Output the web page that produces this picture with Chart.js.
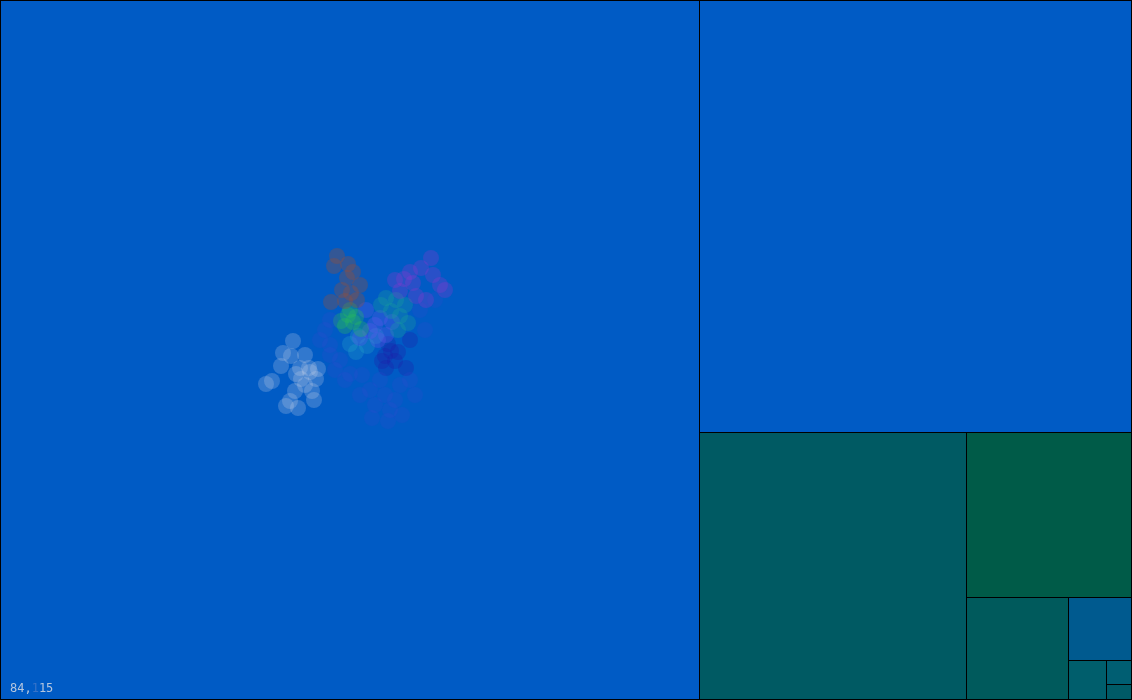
<!DOCTYPE html>
<html>
<head>
<meta charset="utf-8">
<script src="https://cdn.jsdelivr.net/npm/chart.js@4.4.1/dist/chart.umd.min.js"></script>
<style>
html,body{margin:0;padding:0;background:#005BC5;overflow:hidden;}
#wrap{position:relative;width:1132px;height:700px;}
</style>
</head>
<body>
<div id="wrap"><canvas id="c"></canvas></div>
<script>
// ---- treemap data ----
const cellNames  = ['a','b','c','d','e','f','g','h','i'];
const cellValues = [489300, 187056, 71300, 27225, 10404, 3969, 1482, 600, 375];
const cellColors = ['#005BC5','#005BC5','#005A63','#005B48','#005A5C','#005A8F','#005E6C','#005E72','#005A66'];

// ---- scatter cloud data (x, y in plot units) ----
const brownPts  = [[337,256],[334,266],[348,264],[347,278],[342,290],[351,293],[360,285],[357,300],[345,301],[331,302],[353,272]];
const purplePts = [[431,258],[421,268],[410,272],[404,279],[413,283],[400,291],[416,296],[440,285],[445,290],[426,300],[433,275],[395,280]];
const greenPts  = [[348,315],[353,322],[345,326],[356,317],[361,329],[341,321],[350,310]];
const tealPts   = [[386,298],[396,300],[405,305],[400,316],[408,323],[391,311],[381,305],[398,330]];
const whitePts  = [[266,384],[272,381],[293,341],[283,353],[281,366],[291,356],[305,355],[300,368],[310,372],[316,379],[305,385],[312,391],[295,391],[290,401],[298,408],[286,406],[314,400],[301,379],[309,368],[318,369],[296,374]];
const darkPts   = [[385,356],[391,351],[382,361],[398,352],[395,361],[386,368],[406,368],[410,340],[388,344]];
const violetPts = [[375,325],[380,318],[370,331],[386,335],[366,310],[378,340],[392,322],[360,338]];
const cyanPts   = [[358,336],[356,352],[367,346],[376,336],[350,344]];
const faintPts  = [[330,345],[345,380],[350,374],[380,380],[385,395],[390,410],[388,421],[395,400],[375,405],[370,390],[362,375],[340,360],[325,330],[320,340],[330,355],[410,380],[415,395],[400,385],[360,395],[420,310],[425,330],[435,300],[330,320],[335,370],[372,418],[402,415]];

// ---- labels ----
const cornerParts = ['84,', '1', '15'];

const groups = [
  {data: brownPts,  color: 'rgba(150,80,55,0.34)'},
  {data: purplePts, color: 'rgba(160,50,210,0.26)'},
  {data: faintPts,  color: 'rgba(70,70,210,0.16)'},
  {data: greenPts,  color: 'rgba(40,190,90,0.32)'},
  {data: tealPts,   color: 'rgba(30,170,150,0.28)'},
  {data: whitePts,  color: 'rgba(205,215,235,0.24)'},
  {data: violetPts, color: 'rgba(100,90,240,0.30)'},
  {data: cyanPts,   color: 'rgba(40,170,200,0.28)'},
  {data: darkPts,   color: 'rgba(30,30,170,0.30)'}
];

const W = 1132, H = 700;

function worst(row, side) {
  const s = row.reduce((a,b)=>a+b.v,0);
  let mx = -Infinity, mn = Infinity;
  row.forEach(r => { mx = Math.max(mx, r.v); mn = Math.min(mn, r.v); });
  return Math.max(side*side*mx/(s*s), (s*s)/(side*side*mn));
}
function squarify(values, x, y, w, h) {
  const total = values.reduce((a,b)=>a+b,0);
  const items = values.map((v,i)=>({v: v*w*h/total, i}));
  const rects = [];
  let row = [];
  function layout(row) {
    const s = row.reduce((a,b)=>a+b.v,0);
    if (w >= h) {
      const cw = s/h; let cy = y;
      row.forEach(r => { const rh = r.v/cw; rects.push({i:r.i,x0:x,y0:cy,x1:x+cw,y1:cy+rh}); cy += rh; });
      x += cw; w -= cw;
    } else {
      const rh = s/w; let cx = x;
      row.forEach(r => { const rw = r.v/rh; rects.push({i:r.i,x0:cx,y0:y,x1:cx+rw,y1:y+rh}); cx += rw; });
      y += rh; h -= rh;
    }
  }
  let k = 0;
  while (k < items.length) {
    const side = Math.min(w, h);
    const it = items[k];
    if (row.length === 0 || worst(row.concat([it]), side) <= worst(row, side)) {
      row.push(it); k++;
    } else {
      layout(row); row = [];
    }
  }
  if (row.length) layout(row);
  return rects;
}

const treemapPlugin = {
  id: 'treemap',
  beforeDatasetsDraw(chart) {
    const ctx = chart.ctx, xs = chart.scales.x, ys = chart.scales.y;
    const rects = squarify(cellValues, 0, 0, W, H);
    const px = r => {
      let x0 = Math.floor(xs.getPixelForValue(r.x0) + 1e-6), x1 = Math.floor(xs.getPixelForValue(r.x1) + 1e-6);
      let y0 = Math.floor(ys.getPixelForValue(r.y0) + 1e-6), y1 = Math.floor(ys.getPixelForValue(r.y1) + 1e-6);
      x1 = Math.min(x1, chart.width - 1); y1 = Math.min(y1, chart.height - 1);
      return {x0, x1, y0, y1};
    };
    ctx.save();
    rects.forEach(r => {
      const p = px(r);
      ctx.fillStyle = cellColors[r.i];
      ctx.fillRect(p.x0, p.y0, p.x1 - p.x0 + 1, p.y1 - p.y0 + 1);
    });
    ctx.strokeStyle = '#000';
    ctx.lineWidth = 1;
    rects.forEach(r => {
      const p = px(r);
      ctx.strokeRect(p.x0 + 0.5, p.y0 + 0.5, p.x1 - p.x0, p.y1 - p.y0);
    });
    ctx.restore();
  },
  afterDraw(chart) {
    const ctx = chart.ctx;
    ctx.save();
    ctx.font = '12px "DejaVu Sans Mono", monospace';
    ctx.textBaseline = 'alphabetic';
    let x = 10; const y = 692;
    const cols = ['rgba(200,210,225,0.9)', 'rgba(110,140,205,0.5)', 'rgba(200,210,225,0.9)'];
    cornerParts.forEach((p, i) => {
      ctx.fillStyle = cols[i];
      ctx.fillText(p, x, y);
      x += ctx.measureText(p).width;
    });
    ctx.restore();
  }
};

new Chart(document.getElementById('c'), {
  type: 'scatter',
  data: {
    datasets: groups.map(g => ({
      data: g.data.map(p => ({x: p[0], y: p[1]})),
      backgroundColor: g.color,
      borderWidth: 0,
      pointRadius: 8,
      pointHoverRadius: 8
    }))
  },
  options: {
    responsive: true,
    maintainAspectRatio: false,
    animation: false,
    layout: {padding: 0, autoPadding: false},
    plugins: {legend: {display: false}, tooltip: {enabled: false}},
    events: [],
    scales: {
      x: {type: 'linear', min: 0, max: W, display: false},
      y: {type: 'linear', min: 0, max: H, reverse: true, display: false}
    }
  },
  plugins: [treemapPlugin]
});
</script>
</body>
</html>
